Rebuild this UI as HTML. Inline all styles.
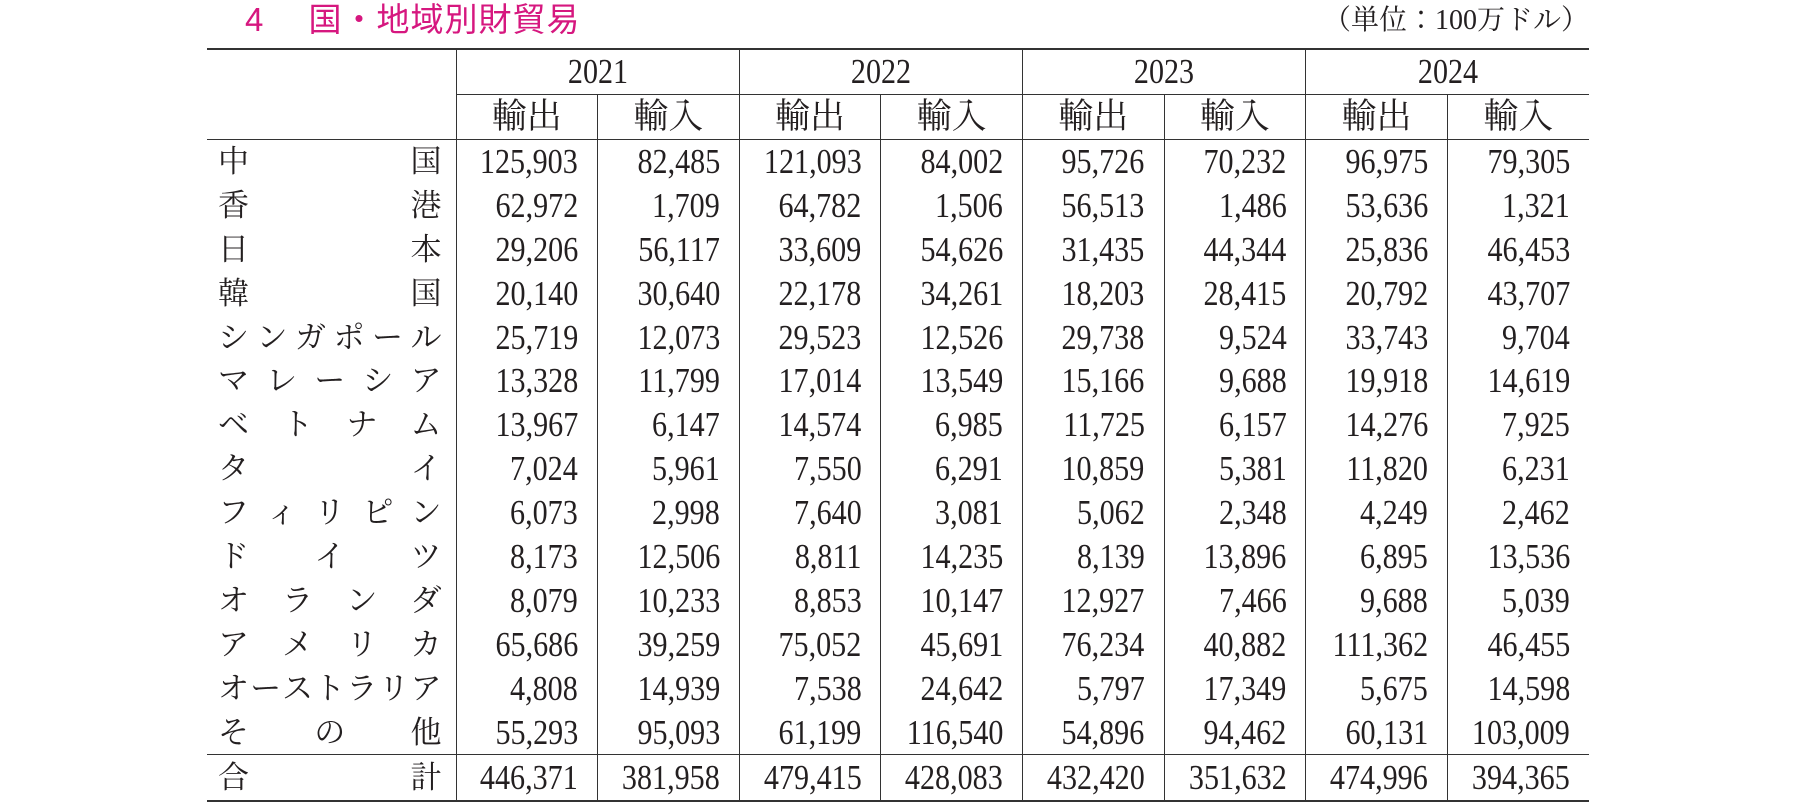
<!DOCTYPE html>
<html><head><meta charset="utf-8">
<style>
html,body{margin:0;padding:0;background:#fff;}
body{width:1800px;height:807px;position:relative;overflow:hidden;font-family:"Liberation Serif","Noto Serif CJK SC",serif;color:#231f20;}
.title{position:absolute;left:245px;top:-1px;font-family:"Liberation Sans","Noto Sans CJK JP",sans-serif;font-size:33px;color:#d6177f;letter-spacing:1px;line-height:42px;}
.unit{position:absolute;right:211px;top:1px;font-family:"Liberation Serif","Noto Serif CJK JP",serif;font-size:28px;line-height:40px;}
table{position:absolute;left:207px;top:48px;border-collapse:collapse;table-layout:fixed;width:1382px;}
td{padding:0;border:0;font-size:35px;white-space:nowrap;line-height:30px;overflow:hidden;}
.hd td{height:44px;text-align:center;font-family:"Liberation Serif","Noto Serif CJK JP",serif;}
.n{text-align:right;padding-right:19px;border-left:1.5px solid #333;}
.n span,.c span{display:inline-block;transform:scaleX(0.86);transform-origin:right center;}
.c span{transform-origin:center;}
.s{padding:0 14px 0 11px;}
.s div{display:flex;justify-content:space-between;font-family:"Liberation Serif","Noto Serif CJK JP",serif;font-size:31px;}
tr.d td{height:43.9px;}
tr.t td{height:45px;border-top:1.5px solid #333;border-bottom:2px solid #333;}
.top td{border-top:2px solid #333;}
.bl{border-left:1.5px solid #333;}
.bb{border-bottom:1.5px solid #333;}
</style></head><body>
<div class="title">4　 国・地域別財貿易</div>
<div class="unit">（単位：100万ドル）</div>
<table>
<colgroup><col style="width:249px"><col><col><col><col><col><col><col><col></colgroup>
<tr class="hd top"><td rowspan="2" class="bb"></td><td colspan="2" class="bl bb c"><span>2021</span></td><td colspan="2" class="bl bb c"><span>2022</span></td><td colspan="2" class="bl bb c"><span>2023</span></td><td colspan="2" class="bl bb c"><span>2024</span></td></tr>
<tr class="hd"><td class="bl bb">輸出</td><td class="bl bb">輸入</td><td class="bl bb">輸出</td><td class="bl bb">輸入</td><td class="bl bb">輸出</td><td class="bl bb">輸入</td><td class="bl bb">輸出</td><td class="bl bb">輸入</td></tr>
<tr class="d"><td class="s"><div><span>中</span><span>国</span></div></td><td class="n"><span>125,903</span></td><td class="n"><span>82,485</span></td><td class="n"><span>121,093</span></td><td class="n"><span>84,002</span></td><td class="n"><span>95,726</span></td><td class="n"><span>70,232</span></td><td class="n"><span>96,975</span></td><td class="n"><span>79,305</span></td></tr>
<tr class="d"><td class="s"><div><span>香</span><span>港</span></div></td><td class="n"><span>62,972</span></td><td class="n"><span>1,709</span></td><td class="n"><span>64,782</span></td><td class="n"><span>1,506</span></td><td class="n"><span>56,513</span></td><td class="n"><span>1,486</span></td><td class="n"><span>53,636</span></td><td class="n"><span>1,321</span></td></tr>
<tr class="d"><td class="s"><div><span>日</span><span>本</span></div></td><td class="n"><span>29,206</span></td><td class="n"><span>56,117</span></td><td class="n"><span>33,609</span></td><td class="n"><span>54,626</span></td><td class="n"><span>31,435</span></td><td class="n"><span>44,344</span></td><td class="n"><span>25,836</span></td><td class="n"><span>46,453</span></td></tr>
<tr class="d"><td class="s"><div><span>韓</span><span>国</span></div></td><td class="n"><span>20,140</span></td><td class="n"><span>30,640</span></td><td class="n"><span>22,178</span></td><td class="n"><span>34,261</span></td><td class="n"><span>18,203</span></td><td class="n"><span>28,415</span></td><td class="n"><span>20,792</span></td><td class="n"><span>43,707</span></td></tr>
<tr class="d"><td class="s"><div><span>シ</span><span>ン</span><span>ガ</span><span>ポ</span><span>ー</span><span>ル</span></div></td><td class="n"><span>25,719</span></td><td class="n"><span>12,073</span></td><td class="n"><span>29,523</span></td><td class="n"><span>12,526</span></td><td class="n"><span>29,738</span></td><td class="n"><span>9,524</span></td><td class="n"><span>33,743</span></td><td class="n"><span>9,704</span></td></tr>
<tr class="d"><td class="s"><div><span>マ</span><span>レ</span><span>ー</span><span>シ</span><span>ア</span></div></td><td class="n"><span>13,328</span></td><td class="n"><span>11,799</span></td><td class="n"><span>17,014</span></td><td class="n"><span>13,549</span></td><td class="n"><span>15,166</span></td><td class="n"><span>9,688</span></td><td class="n"><span>19,918</span></td><td class="n"><span>14,619</span></td></tr>
<tr class="d"><td class="s"><div><span>ベ</span><span>ト</span><span>ナ</span><span>ム</span></div></td><td class="n"><span>13,967</span></td><td class="n"><span>6,147</span></td><td class="n"><span>14,574</span></td><td class="n"><span>6,985</span></td><td class="n"><span>11,725</span></td><td class="n"><span>6,157</span></td><td class="n"><span>14,276</span></td><td class="n"><span>7,925</span></td></tr>
<tr class="d"><td class="s"><div><span>タ</span><span>イ</span></div></td><td class="n"><span>7,024</span></td><td class="n"><span>5,961</span></td><td class="n"><span>7,550</span></td><td class="n"><span>6,291</span></td><td class="n"><span>10,859</span></td><td class="n"><span>5,381</span></td><td class="n"><span>11,820</span></td><td class="n"><span>6,231</span></td></tr>
<tr class="d"><td class="s"><div><span>フ</span><span>ィ</span><span>リ</span><span>ピ</span><span>ン</span></div></td><td class="n"><span>6,073</span></td><td class="n"><span>2,998</span></td><td class="n"><span>7,640</span></td><td class="n"><span>3,081</span></td><td class="n"><span>5,062</span></td><td class="n"><span>2,348</span></td><td class="n"><span>4,249</span></td><td class="n"><span>2,462</span></td></tr>
<tr class="d"><td class="s"><div><span>ド</span><span>イ</span><span>ツ</span></div></td><td class="n"><span>8,173</span></td><td class="n"><span>12,506</span></td><td class="n"><span>8,811</span></td><td class="n"><span>14,235</span></td><td class="n"><span>8,139</span></td><td class="n"><span>13,896</span></td><td class="n"><span>6,895</span></td><td class="n"><span>13,536</span></td></tr>
<tr class="d"><td class="s"><div><span>オ</span><span>ラ</span><span>ン</span><span>ダ</span></div></td><td class="n"><span>8,079</span></td><td class="n"><span>10,233</span></td><td class="n"><span>8,853</span></td><td class="n"><span>10,147</span></td><td class="n"><span>12,927</span></td><td class="n"><span>7,466</span></td><td class="n"><span>9,688</span></td><td class="n"><span>5,039</span></td></tr>
<tr class="d"><td class="s"><div><span>ア</span><span>メ</span><span>リ</span><span>カ</span></div></td><td class="n"><span>65,686</span></td><td class="n"><span>39,259</span></td><td class="n"><span>75,052</span></td><td class="n"><span>45,691</span></td><td class="n"><span>76,234</span></td><td class="n"><span>40,882</span></td><td class="n"><span>111,362</span></td><td class="n"><span>46,455</span></td></tr>
<tr class="d"><td class="s"><div><span>オ</span><span>ー</span><span>ス</span><span>ト</span><span>ラ</span><span>リ</span><span>ア</span></div></td><td class="n"><span>4,808</span></td><td class="n"><span>14,939</span></td><td class="n"><span>7,538</span></td><td class="n"><span>24,642</span></td><td class="n"><span>5,797</span></td><td class="n"><span>17,349</span></td><td class="n"><span>5,675</span></td><td class="n"><span>14,598</span></td></tr>
<tr class="d"><td class="s"><div><span>そ</span><span>の</span><span>他</span></div></td><td class="n"><span>55,293</span></td><td class="n"><span>95,093</span></td><td class="n"><span>61,199</span></td><td class="n"><span>116,540</span></td><td class="n"><span>54,896</span></td><td class="n"><span>94,462</span></td><td class="n"><span>60,131</span></td><td class="n"><span>103,009</span></td></tr>
<tr class="t"><td class="s"><div><span>合</span><span>計</span></div></td><td class="n"><span>446,371</span></td><td class="n"><span>381,958</span></td><td class="n"><span>479,415</span></td><td class="n"><span>428,083</span></td><td class="n"><span>432,420</span></td><td class="n"><span>351,632</span></td><td class="n"><span>474,996</span></td><td class="n"><span>394,365</span></td></tr>
</table>
</body></html>
